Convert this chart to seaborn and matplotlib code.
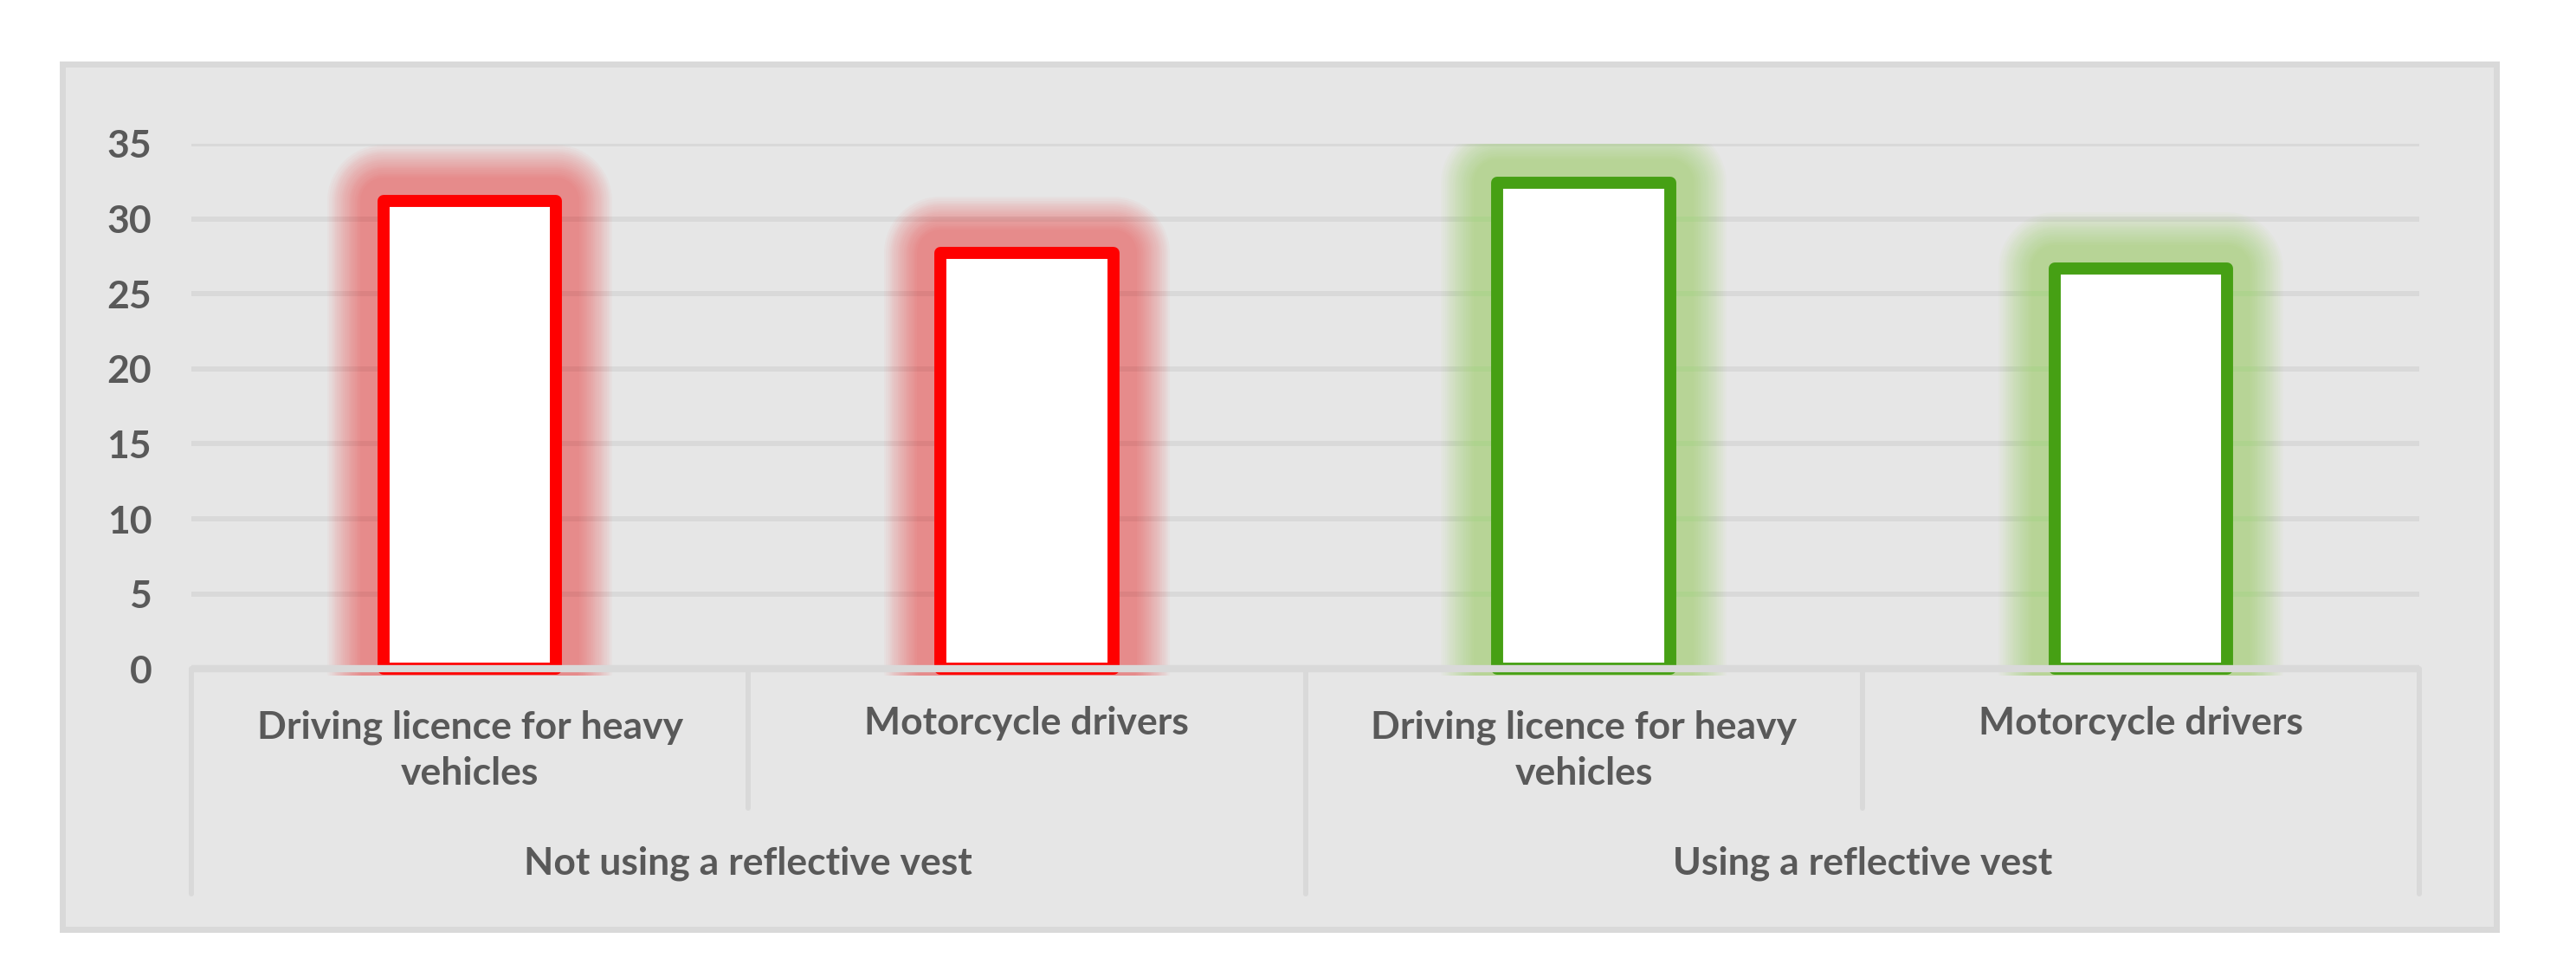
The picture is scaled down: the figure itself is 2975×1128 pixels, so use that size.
import numpy as np
import pandas as pd
import matplotlib
matplotlib.use("Agg")
import matplotlib.pyplot as plt
import matplotlib.patheffects as pe
import matplotlib.transforms as mtrans
from matplotlib.patches import Rectangle
import seaborn as sns

# Data
groups = ["Not using a reflective vest", "Not using a reflective vest",
          "Using a reflective vest", "Using a reflective vest"]
categories = ["Driving licence for heavy\nvehicles", "Motorcycle drivers",
              "Driving licence for heavy\nvehicles", "Motorcycle drivers"]
values = [31.2, 27.7, 32.4, 26.7]
y_ticks = [0, 5, 10, 15, 20, 25, 30, 35]

# Colours
line_colors = {"Not using a reflective vest": "#FF0000", "Using a reflective vest": "#46A014"}
glow_colors = {"Not using a reflective vest": "#FF1010", "Using a reflective vest": "#7DD32C"}
text_color = "#595959"
grid_color = "#D9D9D9"

df = pd.DataFrame({"group": groups, "category": categories, "value": values})
df["key"] = df["group"] + "|" + df["category"]

sns.set_style("white")
plt.rcParams["font.family"] = ["Lato", "DejaVu Sans"]
plt.rcParams["font.weight"] = "bold"

W, H = 2975, 1128
fig = plt.figure(figsize=(W / 100, H / 100), dpi=100)
fig.patch.set_facecolor("white")

# chart area frame
frame = Rectangle((72 / W, 1 - 1073 / H), (2883 - 72) / W, (1073 - 74) / H,
                  transform=fig.transFigure, facecolor="#E6E6E6",
                  edgecolor=grid_color, linewidth=5, zorder=-10)
fig.patches.append(frame)

px = lambda y: 1 - y / H
ax = fig.add_axes([221 / W, px(780), (2794 - 221) / W, (780 - 166) / H])
ax.set_zorder(1)
ax.patch.set_alpha(0)

sns.barplot(data=df, x="key", y="value", order=list(df["key"]), color="white",
            saturation=1, width=0.31, errorbar=None, linewidth=10, edgecolor="red", ax=ax)

# soft glow: stacked translucent strokes of decreasing width
glow_lw = np.linspace(2 * (7 + 58), 2 * (7 + 20), 18) * 0.72
for patch, g in zip(ax.patches, df["group"]):
    patch.set_edgecolor(line_colors[g])
    patch.set_joinstyle("round")
    patch.set_zorder(3)
    effects = [pe.Stroke(linewidth=lw, foreground=glow_colors[g], alpha=0.028,
                         joinstyle="round") for lw in glow_lw]
    patch.set_path_effects(effects + [pe.Normal()])

ax.set_xlim(-0.5, len(df) - 0.5)
ax.set_ylim(-0.45, 35)
ax.set_yticks(y_ticks)
ax.set_xticks([])
ax.set_xlabel("")
ax.set_ylabel("")
ax.yaxis.grid(True, color=grid_color, linewidth=4.3)
ax.set_axisbelow(True)
ax.tick_params(axis="y", length=0, pad=33, labelsize=32, labelcolor=text_color)
for lab in ax.get_yticklabels():
    lab.set_fontweight("bold")
for s in ax.spines.values():
    s.set_visible(False)

# category axis drawn as an Excel-style multi-level table
ax.axhline(0, color=grid_color, linewidth=6, zorder=5)
tr = mtrans.blended_transform_factory(ax.transData, fig.transFigure)
n = len(df)
group_names = list(dict.fromkeys(df["group"]))
for i in range(n + 1):
    x = i - 0.5
    outer = i == 0 or i == n or df["group"].iloc[i - 1] != df["group"].iloc[min(i, n - 1)]
    y_end = 1032 if outer else 933
    ax.plot([x, x], [px(772), px(y_end)], transform=tr, color=grid_color,
            linewidth=4.3, clip_on=False, zorder=5)

for i, cat in enumerate(df["category"]):
    nlines = cat.count("\n") + 1
    ax.text(i, px(835 + (nlines - 1) * 31), cat, transform=tr, ha="center", va="center",
            fontsize=32, fontweight="bold", color=text_color, linespacing=1.4)

for g in group_names:
    xc = np.mean(np.where(df["group"] == g)[0])
    ax.text(xc, px(997), g, transform=tr, ha="center", va="center",
            fontsize=32, fontweight="bold", color=text_color)

fig.savefig("out.png", dpi=100)
